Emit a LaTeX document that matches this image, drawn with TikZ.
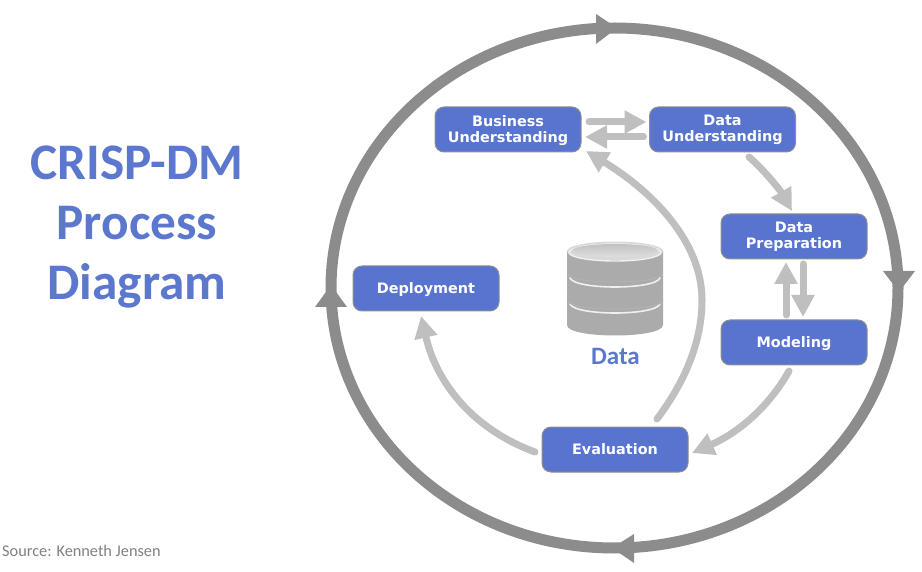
\documentclass[tikz,border=0pt]{standalone}
\usepackage{fontspec}
\setmainfont{Carlito}
\newfontfamily\boxfont{DejaVu Sans}
\usetikzlibrary{arrows.meta,calc}
\definecolor{boxblue}{HTML}{5874CE}
\definecolor{boxline}{HTML}{8F8F8F}
\definecolor{titleblue}{HTML}{5B78CE}
\definecolor{ringgrey}{HTML}{8C8C8C}
\definecolor{flowgrey}{HTML}{BFBFBF}
\tikzset{
  phase/.style={draw=boxline,line width=1pt,fill=boxblue,rounded corners=9pt,minimum width=146pt,minimum height=45pt,inner sep=0pt,outer sep=0pt,text=white,align=center,font=\boxfont\bfseries\fontsize{14.4}{16}\selectfont,text depth=1.5pt},
  flow/.style={draw=flowgrey,line width=7pt,line cap=round,-{Triangle[length=22pt,width=22pt]}},
  ring/.style={draw=ringgrey,line width=11pt},
  ringhead/.style={fill=ringgrey,draw=none},
  diskside/.style={left color=black!33,middle color=black!12,right color=black!33,draw=none},
  diskrim/.style={draw=black!6,line width=1.6pt,line cap=round},
  diskedge/.style={draw=black!30,line width=1pt},
}
\begin{document}
\begin{tikzpicture}[x=1pt,y=-1pt]
\useasboundingbox (0,0) rectangle (922,572);
% outer cycle
\draw[ring] (614.5,288) ellipse [x radius=283.5,y radius=260];
\fill[ringhead] (596,14) -- (617,28) -- (596,44) -- cycle;
\fill[ringhead] (883,271) -- (915,271) -- (899,292) -- cycle;
\fill[ringhead] (634,534) -- (612,548) -- (634,563) -- cycle;
\fill[ringhead] (315,307) -- (347,307) -- (331,285) -- cycle;
% title and source
\node[text=titleblue,font=\bfseries\fontsize{51.3}{60}\selectfont,align=center,inner sep=0pt] (title) at (137,227.5) {CRISP-DM\\Process\\Diagram};
\node[text=black!50,font=\fontsize{16.3}{18}\selectfont,anchor=west,inner sep=0pt] (source) at (2,550.5) {Source: Kenneth Jensen};
% data store
\path[diskside] (567,300) -- (567,325) .. controls (567,339) and (663,339) .. (663,325) -- (663,300) -- cycle;
\draw[diskrim] (570,304) .. controls (575,316) and (655,316) .. (660,304);
\path[diskside] (567,275) -- (567,300) .. controls (567,312) and (663,312) .. (663,300) -- (663,275) -- cycle;
\draw[diskedge] (567,300) .. controls (567,312) and (663,312) .. (663,300);
\draw[diskrim] (570,278) .. controls (575,290) and (655,290) .. (660,278);
\path[diskside] (567,251) -- (567,273) .. controls (567,285) and (663,285) .. (663,273) -- (663,251) -- cycle;
\draw[diskedge] (567,273) .. controls (567,285) and (663,285) .. (663,273);
\fill[black!15] (615,251) ellipse [x radius=48,y radius=9.5];
\draw[black!6,line width=1.4pt] (615,252.5) ellipse [x radius=46,y radius=8.5];
\shade[top color=black!24,bottom color=black!13] (615,250.5) ellipse [x radius=43,y radius=6.5];
\node[text=titleblue,font=\bfseries\fontsize{25}{28}\selectfont,inner sep=0pt] (data) at (615.5,356) {Data};
% phases
\node[phase] (bu) at (508,129.5) {Business\\Understanding};
\node[phase] (du) at (722.5,129.5) {Data\\Understanding};
\node[phase] (dp) at (794,236.5) {Data\\Preparation};
\node[phase] (mo) at (794,342.5) {Modeling};
\node[phase] (de) at (426,288.5) {Deployment};
\node[phase] (ev) at (615,449.5) {Evaluation};
% flows
\draw[flow] ([shift={(8,-7.5)}]bu.east) -- ([shift={(-3,-7.5)}]du.west);
\draw[flow] ([shift={(-6,7.5)}]du.west) -- ([shift={(4,7.5)}]bu.east);
\draw[flow] ([shift={(26.5,5)}]du.south) .. controls (765,171) and (780,190) .. ([shift={(-2,-3)}]dp.north);
\draw[flow] ([shift={(-8,-5)}]mo.north) -- ([shift={(-8,3)}]dp.south);
\draw[flow] ([shift={(9,5)}]dp.south) -- ([shift={(9,-3)}]mo.north);
\draw[flow] ([shift={(-5,6)}]mo.south) .. controls (770,405) and (740,432) .. ([shift={(4,3.5)}]ev.east);
\draw[flow] ([shift={(42,-8)}]ev.north) .. controls (690,375) and (702,335) .. (702,300) .. controls (702,240) and (650,190) .. ([shift={(5,-1)}]bu.south east);
\draw[flow] ([shift={(-7,2.5)}]ev.west) .. controls (475,430) and (437,385) .. ([shift={(-5,5)}]de.south);
\end{tikzpicture}
\end{document}
